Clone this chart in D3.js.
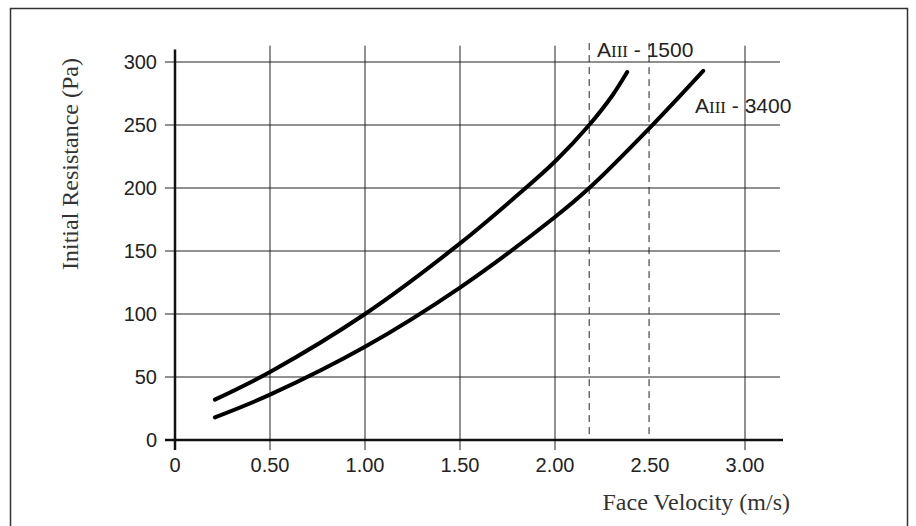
<!DOCTYPE html>
<html>
<head>
<meta charset="utf-8">
<script src="https://cdn.jsdelivr.net/npm/d3@7"></script>
<style>
  body { margin: 0; background: #fff; }
  .tick-label { font-family: "Liberation Sans", Arial, sans-serif; font-size: 20px; fill: #222; }
  .curve-label { font-family: "Liberation Sans", Arial, sans-serif; font-size: 21px; fill: #222; }
  .title { font-family: "Liberation Serif", "Times New Roman", serif; font-size: 24px; fill: #333; }
</style>
</head>
<body>
<div id="chart"></div>
<script>
// tick values
var xTicks = [0, 0.5, 1.0, 1.5, 2.0, 2.5, 3.0];
var xTickLabels = ["0", "0.50", "1.00", "1.50", "2.00", "2.50", "3.00"];
var yTicks = [0, 50, 100, 150, 200, 250, 300];
// solid vertical grid lines (2.50 is covered by a dashed line)
var xGrid = [0.5, 1.0, 1.5, 2.0, 3.0];

// curve AIII - 1500
var a1500X = [0.21, 0.5, 1.0, 1.5, 1.8, 2.0, 2.18, 2.3, 2.38];
var a1500Y = [32, 54, 100, 156, 194, 221, 250, 273, 292];
// curve AIII - 3400
var a3400X = [0.21, 0.5, 1.0, 1.5, 2.0, 2.18, 2.5, 2.78];
var a3400Y = [18, 36, 74, 121, 177, 200, 248, 293];

// dashed reference velocities
var dashedX = [2.18, 2.495];

var svgWidth = 916, svgHeight = 526;

var svg = d3.select("#chart").append("svg")
  .attr("width", svgWidth)
  .attr("height", svgHeight);

// frame
svg.append("rect")
  .attr("x", 10.5).attr("y", 8.5)
  .attr("width", 897).attr("height", 540)
  .attr("fill", "none")
  .attr("stroke", "#333")
  .attr("stroke-width", 1.5);

var xScale = d3.scaleLinear().domain([0, 3]).range([175, 745]);
var yScale = d3.scaleLinear().domain([0, 300]).range([440, 62]);

var grid = svg.append("g");

// horizontal grid lines (they also serve as y ticks)
grid.selectAll("line.h")
  .data(yTicks.slice(1))
  .enter().append("line")
  .attr("class", "h")
  .attr("x1", xScale(-0.053)).attr("x2", xScale(3.184))
  .attr("y1", d => yScale(d)).attr("y2", d => yScale(d))
  .attr("stroke", "#222").attr("stroke-width", 1);

// vertical grid lines (they also serve as x ticks)
grid.selectAll("line.v")
  .data(xGrid)
  .enter().append("line")
  .attr("class", "v")
  .attr("x1", d => xScale(d)).attr("x2", d => xScale(d))
  .attr("y1", yScale(313)).attr("y2", yScale(-8))
  .attr("stroke", "#222").attr("stroke-width", 1);

// dashed lines
grid.selectAll("line.d")
  .data(dashedX)
  .enter().append("line")
  .attr("class", "d")
  .attr("x1", d => xScale(d)).attr("x2", d => xScale(d))
  .attr("y1", yScale(315)).attr("y2", yScale(0))
  .attr("stroke", "#222").attr("stroke-width", 1)
  .attr("stroke-dasharray", "7,5");

// axes
svg.append("line")
  .attr("x1", xScale(-0.053)).attr("x2", xScale(3.2))
  .attr("y1", yScale(0)).attr("y2", yScale(0))
  .attr("stroke", "#111").attr("stroke-width", 2.5);
svg.append("line")
  .attr("x1", xScale(0)).attr("x2", xScale(0))
  .attr("y1", yScale(310)).attr("y2", yScale(-8))
  .attr("stroke", "#111").attr("stroke-width", 2.5);

// tick labels
svg.selectAll("text.xl")
  .data(xTicks)
  .enter().append("text")
  .attr("class", "tick-label")
  .attr("x", d => xScale(d))
  .attr("y", 472)
  .attr("text-anchor", "middle")
  .text((d, i) => xTickLabels[i]);

svg.selectAll("text.yl")
  .data(yTicks)
  .enter().append("text")
  .attr("class", "tick-label")
  .attr("x", 157)
  .attr("y", d => yScale(d) + 7)
  .attr("text-anchor", "end")
  .text(d => d);

// curves
var line = d3.line()
  .x(d => xScale(d[0]))
  .y(d => yScale(d[1]))
  .curve(d3.curveCatmullRom.alpha(0.5));

[[a1500X, a1500Y], [a3400X, a3400Y]].forEach(function(s) {
  var pts = s[0].map((x, i) => [x, s[1][i]]);
  svg.append("path")
    .attr("d", line(pts))
    .attr("fill", "none")
    .attr("stroke", "#000")
    .attr("stroke-width", 4)
    .attr("stroke-linecap", "round");
});

// curve labels
function curveLabel(x, y, num) {
  var t = svg.append("text")
    .attr("x", x).attr("y", y)
    .attr("class", "curve-label");
  t.append("tspan").text("A");
  t.append("tspan")
    .style("font-family", "'Liberation Serif', 'Times New Roman', serif")
    .style("font-size", "17px")
    .text("III");
  t.append("tspan").text(" - " + num);
}
curveLabel(597, 57, "1500");
curveLabel(695, 113, "3400");

// axis titles
svg.append("text")
  .attr("class", "title")
  .attr("x", 790).attr("y", 510)
  .attr("text-anchor", "end")
  .text("Face Velocity (m/s)");

svg.append("text")
  .attr("class", "title")
  .attr("transform", "translate(78, 164) rotate(-90)")
  .attr("text-anchor", "middle")
  .text("Initial Resistance (Pa)");
</script>
</body>
</html>
